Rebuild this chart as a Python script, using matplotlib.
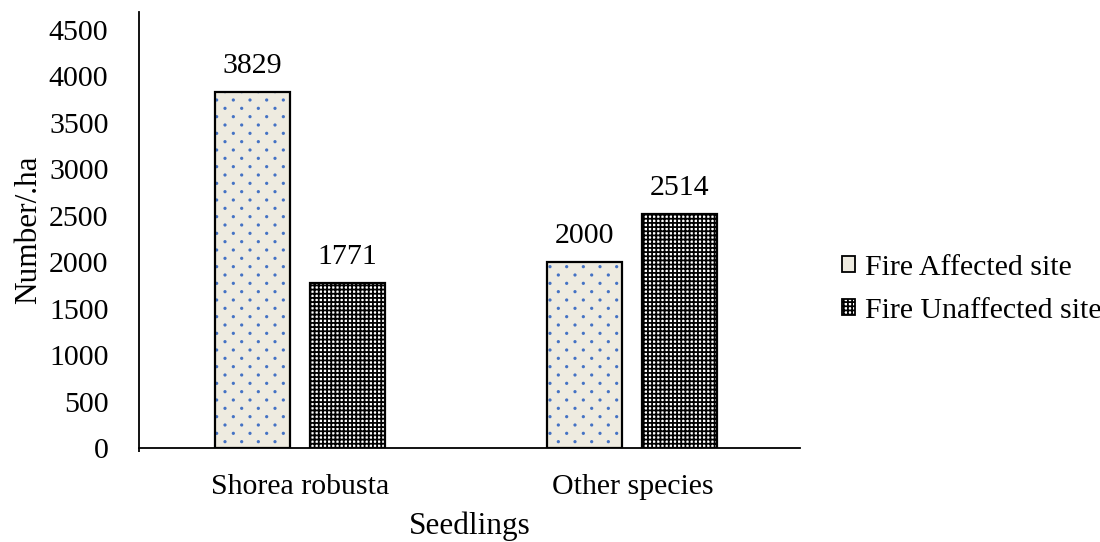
import matplotlib
matplotlib.use("Agg")
import matplotlib.pyplot as plt
import matplotlib.hatch as mhatch
from matplotlib.path import Path
from matplotlib.patches import Patch
import numpy as np

plt.rcParams['font.family'] = ['Liberation Serif', 'DejaVu Serif']
plt.rcParams['hatch.linewidth'] = 1.3


# Sparse staggered dot pattern (Excel "dotted" fill), used for the '.' hatch
class _SparseDots(mhatch.HatchPatternBase):
    def __init__(self, hatch, density):
        circ = Path.unit_circle()
        self.sv = circ.vertices
        self.sc = circ.codes
        self.on = hatch.count('.') > 0
        n_shapes = 7 * 7 + 6 * 6
        self.num_vertices = n_shapes * len(self.sv) if self.on else 0

    def set_vertices_and_codes(self, vertices, codes):
        vparts, cparts = [], []
        r = 0.007
        for row in range(13):
            if row % 2 == 0:
                cols = np.linspace(0, 1, 7)
            else:
                cols = np.linspace(1 / 12, 11 / 12, 6)
            for c in cols:
                vparts.append(self.sv * r + [c, row / 12])
                cparts.append(self.sc)
        np.concatenate(vparts, out=vertices)
        np.concatenate(cparts, out=codes)


mhatch._hatch_types[:] = [_SparseDots if t is mhatch.SmallFilledCircles else t
                          for t in mhatch._hatch_types]

categories = ["Shorea robusta", "Other species"]
series_names = ["Fire Affected site", "Fire Unaffected site"]
affected = [3829, 2000]
unaffected = [1771, 2514]
yticks = [0, 500, 1000, 1500, 2000, 2500, 3000, 3500, 4000, 4500]

FS = 21.5
fig = plt.figure(figsize=(11, 5.42), dpi=100)
ax = fig.add_axes([0.12636, 0.17343, 0.6009, 0.80443])

x = np.arange(len(categories))
w = 0.2256
off = 0.1429

# Fire affected: beige with sparse blue dots
ax.bar(x - off, affected, w, color="#EEEBE0", edgecolor="#4472C4", hatch=".", linewidth=0, zorder=2)
ax.bar(x - off, affected, w, fill=False, edgecolor="black", linewidth=1.6, zorder=3)
# Fire unaffected: dense black/white checker
ax.bar(x + off, unaffected, w, color="white", edgecolor="black", hatch="++++", linewidth=1.6, zorder=2)

for xi, v in zip(x - off, affected):
    ax.annotate(str(v), (xi, v), xytext=(0, 9.5), textcoords="offset points",
                ha="center", va="bottom", fontsize=FS)
for xi, v in zip(x + off, unaffected):
    ax.annotate(str(v), (xi, v), xytext=(0, 9.5), textcoords="offset points",
                ha="center", va="bottom", fontsize=FS)

ax.set_xlim(-0.4842, 1.5038)
ax.set_ylim(0, 4690)
ax.set_yticks(yticks)
ax.set_yticklabels([str(t) for t in yticks], fontsize=FS)
ax.set_yticks([0], minor=True)
ax.tick_params(axis='y', which='major', length=0, pad=22)
ax.tick_params(axis='y', which='minor', length=4.5, width=1.3, direction='out')
ax.set_xticks(x)
ax.set_xticklabels(categories, fontsize=FS)
ax.set_xticks([-0.4842], minor=True)
ax.tick_params(axis='x', which='major', length=0, pad=19)
ax.tick_params(axis='x', which='minor', length=3, width=1.3, direction='out')

for s in ["top", "right"]:
    ax.spines[s].set_visible(False)
ax.spines["left"].set_linewidth(1.3)
ax.spines["bottom"].set_linewidth(1.3)

ax.set_ylabel("Number/.ha", fontsize=22.5, labelpad=4)
ax.set_xlabel("Seedlings", fontsize=22.5, labelpad=8)

handles = [
    Patch(facecolor="#EEEBE0", edgecolor="black", linewidth=1.3),
    Patch(facecolor="white", edgecolor="black", linewidth=1.3, hatch="++++"),
]
ax.legend(handles, series_names, loc="center left", bbox_to_anchor=(1.0635, 0.3635), frameon=False,
          fontsize=FS, handlelength=0.45, handleheight=0.45, handletextpad=0.33, labelspacing=0.57,
          borderpad=0, borderaxespad=0)

fig.savefig("out.png", dpi=100)
